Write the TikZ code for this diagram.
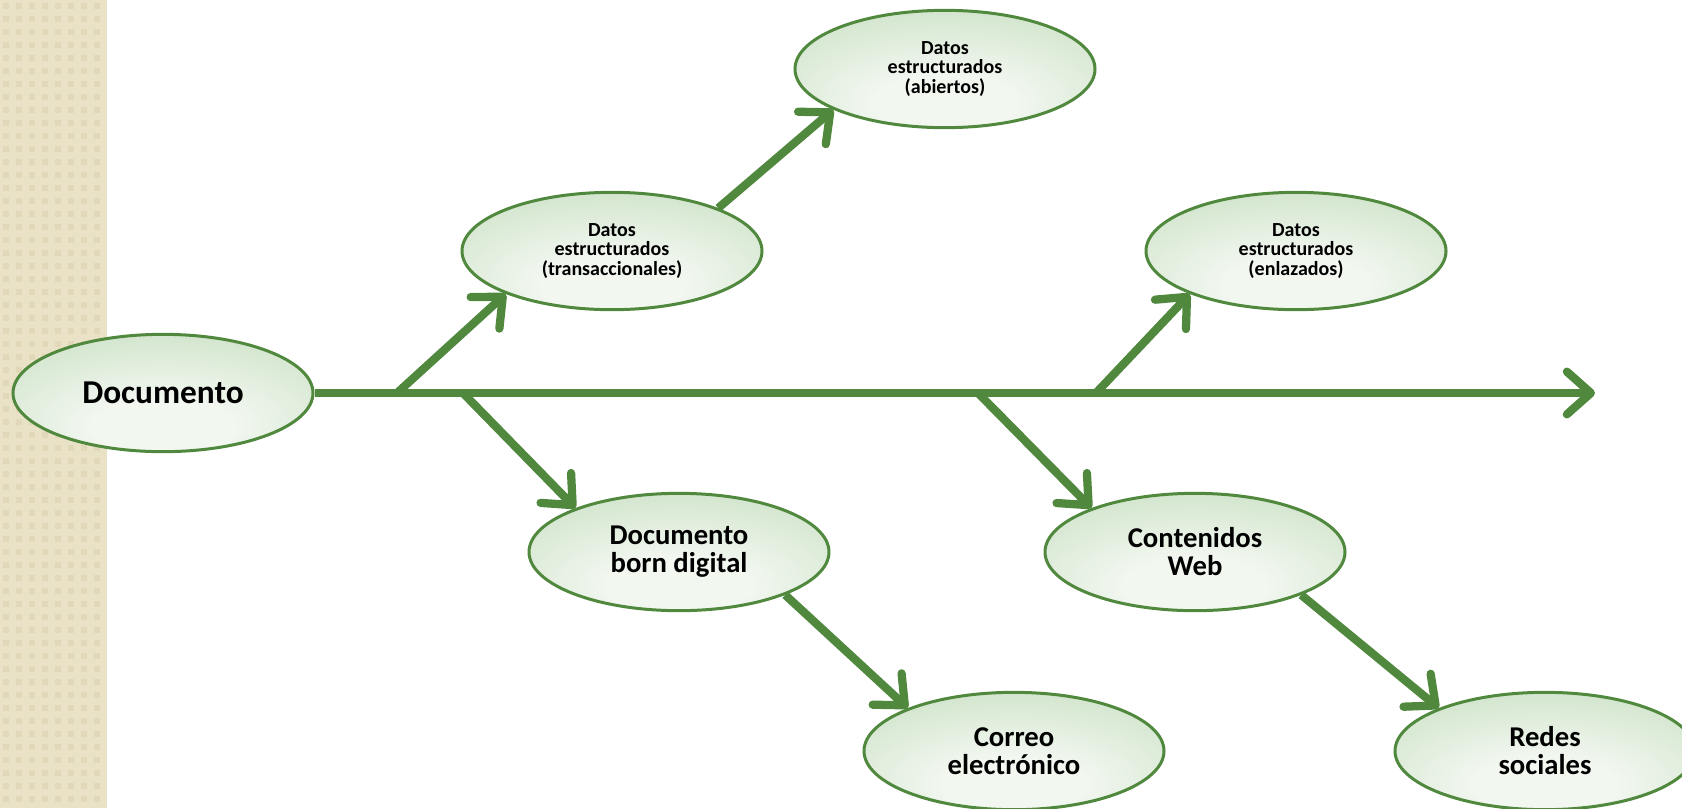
\documentclass[tikz,border=0pt]{standalone}
\usepackage{fontspec}
\setmainfont{Carlito}
\usetikzlibrary{shapes.geometric,arrows.meta}

\definecolor{verde}{RGB}{80,137,62}
\definecolor{relleno}{RGB}{184,214,176}
\definecolor{claro}{RGB}{242,247,240}
\definecolor{beige}{RGB}{234,226,199}
\definecolor{beigeosc}{RGB}{225,216,186}
\pgfdeclareradialshading{ovalshade}{\pgfpoint{0bp}{-18bp}}{color(0bp)=(claro); color(12bp)=(claro); color(52bp)=(relleno); color(60bp)=(relleno)}

\tikzset{every picture/.style={line width=0.75pt}}
\tikzset{
  ovalo/.style={ellipse, draw=verde, line width=2.25pt, shade, shading=ovalshade, minimum width=225pt, minimum height=88pt, inner sep=0pt, align=center},
  grande/.style={font=\fontsize{25}{29}\selectfont\bfseries},
  medio/.style={font=\fontsize{21.5}{21}\selectfont\bfseries},
  chico/.style={font=\fontsize{15}{14.5}\selectfont\bfseries},
  flecha/.style={draw=verde, line width=6.2pt, -{Straight Barb[length=18pt,width=32pt,line cap=round,line join=round]}}
}

\begin{document}
\begin{tikzpicture}[x=0.75pt,y=0.75pt,yscale=-1,xscale=1]
\useasboundingbox (0,0) rectangle (1682,808);

% franja izquierda
\fill [beige] (0,0) rectangle (107,808);
\foreach \i in {0,...,7}
  \foreach \j in {0,...,62}
    \fill [beigeosc] (\i*13+3,\j*13+3) rectangle ++(6,6);

% ovalos
\node [ovalo, grande] (doc) at (163,393) {Documento};
\node [ovalo, chico] (trans) at (612,251) {Datos\\estructurados\\(transaccionales)};
\node [ovalo, chico] (abiertos) at (945,69) {Datos\\estructurados\\(abiertos)};
\node [ovalo, chico] (enlaz) at (1296,251) {Datos\\estructurados\\(enlazados)};
\node [ovalo, medio] (born) at (679,552) {Documento\\born digital};
\node [ovalo, medio] (web) at (1195,552) {Contenidos\\Web};
\node [ovalo, medio] (correo) at (1014,751) {Correo\\electrónico};
\node [ovalo, medio] (redes) at (1545,751) {Redes\\sociales};

% eje principal
\coordinate (m1) at (397,393);
\coordinate (m2) at (463,393);
\coordinate (m3) at (978,393);
\coordinate (m4) at (1096,393);
\coordinate (fin) at (1595,393);
\draw [flecha] (doc.east) -- (fin);

% ramas
\draw [flecha] (m1) -- (trans.202);
\draw [flecha] (trans.22) -- (abiertos.200);
\draw [flecha] (m2) -- (born.157);
\draw [flecha] (born.338) -- (correo.158);
\draw [flecha] (m3) -- (web.157);
\draw [flecha] (m4) -- (enlaz.202);
\draw [flecha] (web.338) -- (redes.158);

\end{tikzpicture}
\end{document}
